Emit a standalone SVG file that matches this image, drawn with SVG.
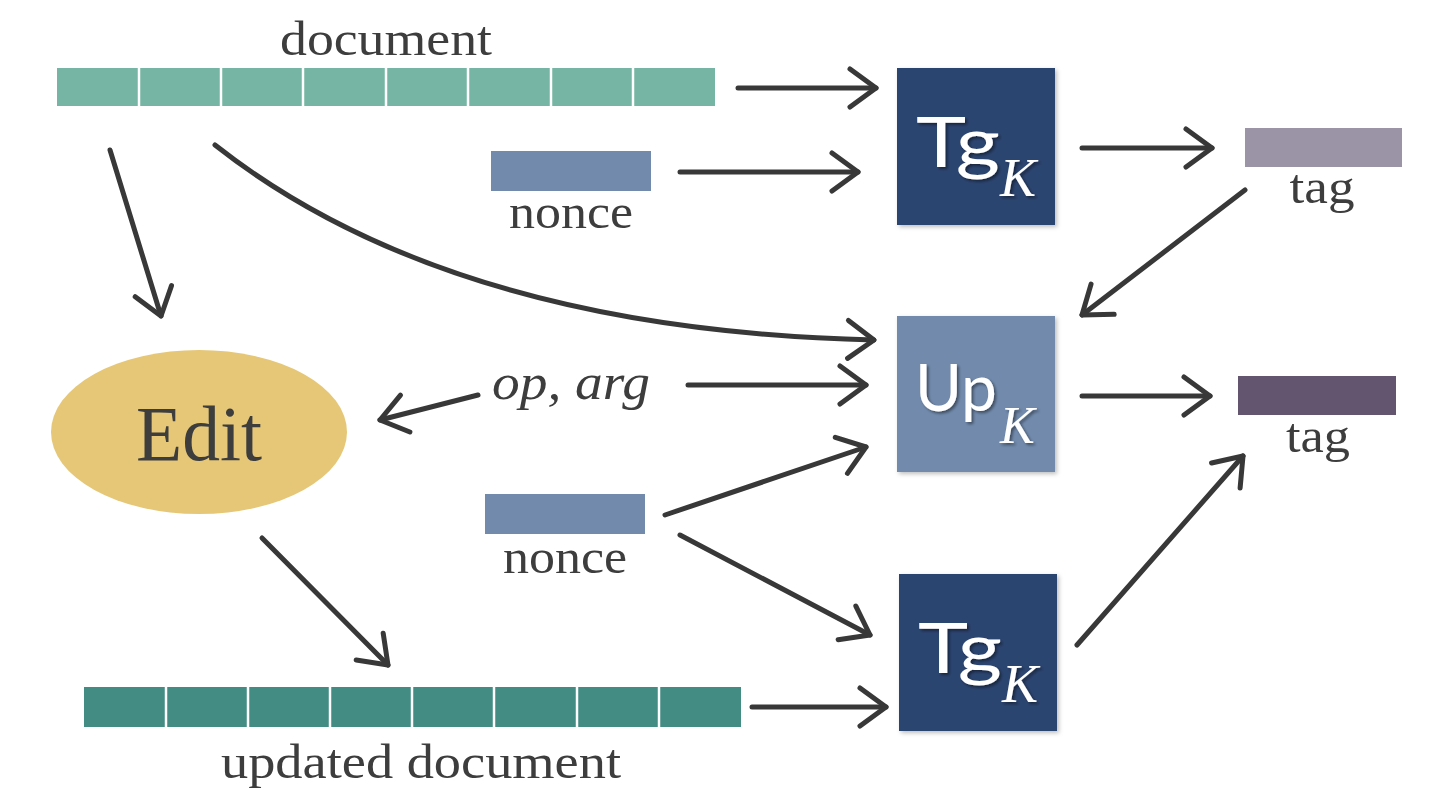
<svg xmlns="http://www.w3.org/2000/svg" width="1430" height="790" viewBox="0 0 1430 790">
<style>
.lbl{font-family:"Liberation Serif","Times New Roman",serif;fill:#3d3d3d;text-anchor:middle}
.box{font-family:Lato,"Open Sans",sans-serif;fill:#ffffff}
.sub{font-family:"Liberation Serif",serif;font-style:italic;fill:#ffffff}
.arr{fill:none;stroke:#383838;stroke-width:5;stroke-linecap:round;marker-end:url(#head)}
.doc{fill:#76b5a3}
.udoc{fill:#428c83}
.sep{stroke:#ffffff;stroke-width:2.5}
</style>
<defs>
<marker id="head" markerUnits="userSpaceOnUse" viewBox="-32 -25 38 50" markerWidth="38" markerHeight="50" refX="0" refY="0" orient="auto">
<path d="M-26,-19 L0,0 L-26,19" fill="none" stroke="#383838" stroke-width="5" stroke-linecap="round" stroke-linejoin="round"/>
</marker>
<filter id="sh" x="-10%" y="-10%" width="125%" height="125%">
<feDropShadow dx="2" dy="2" stdDeviation="2" flood-color="#000" flood-opacity="0.25"/>
</filter>
<filter id="tsh" x="-10%" y="-10%" width="130%" height="130%">
<feDropShadow dx="2" dy="2" stdDeviation="1.5" flood-color="#000" flood-opacity="0.45"/>
</filter>
</defs>

<g id="document">
<rect class="doc" x="57" y="68" width="658" height="38"/>
<g class="sep">
<line x1="139" y1="68" x2="139" y2="106"/><line x1="221" y1="68" x2="221" y2="106"/><line x1="303" y1="68" x2="303" y2="106"/><line x1="386" y1="68" x2="386" y2="106"/><line x1="468" y1="68" x2="468" y2="106"/><line x1="551" y1="68" x2="551" y2="106"/><line x1="633" y1="68" x2="633" y2="106"/>
</g>
<text class="lbl" x="386" y="55" font-size="48" textLength="212" lengthAdjust="spacingAndGlyphs">document</text>
</g>

<g id="nonce1">
<rect x="491" y="151" width="160" height="40" fill="#728bad"/>
<text class="lbl" x="571" y="228" font-size="48" textLength="124" lengthAdjust="spacingAndGlyphs">nonce</text>
</g>

<g id="tg1" filter="url(#sh)">
<rect x="897" y="68" width="158" height="157" fill="#2c4570"/>
<g filter="url(#tsh)">
<text class="box" x="916" y="167" font-size="70" textLength="84" lengthAdjust="spacingAndGlyphs">Tg</text>
<text class="sub" x="1000" y="196" font-size="54">K</text>
</g>
</g>

<g id="tag1">
<rect x="1245" y="128" width="157" height="39" fill="#9b94a6"/>
<text class="lbl" x="1322" y="203" font-size="48" textLength="65" lengthAdjust="spacingAndGlyphs">tag</text>
</g>

<g id="up" filter="url(#sh)">
<rect x="897" y="316" width="158" height="156" fill="#728bad"/>
<g filter="url(#tsh)">
<text class="box" x="915" y="411" font-size="66" textLength="82" lengthAdjust="spacingAndGlyphs">Up</text>
<text class="sub" x="1000" y="443" font-size="52">K</text>
</g>
</g>

<g id="tag2">
<rect x="1238" y="376" width="158" height="39" fill="#635470"/>
<text class="lbl" x="1318" y="452" font-size="48" textLength="64" lengthAdjust="spacingAndGlyphs">tag</text>
</g>

<g id="edit">
<ellipse cx="199" cy="432" rx="148" ry="82" fill="#e5c777"/>
<text class="lbl" x="199" y="460" font-size="78" textLength="126" lengthAdjust="spacingAndGlyphs">Edit</text>
</g>

<g id="oparg">
<text class="lbl" x="571" y="399" font-size="50" font-style="italic" textLength="158" lengthAdjust="spacingAndGlyphs">op, arg</text>
</g>

<g id="nonce2">
<rect x="485" y="494" width="160" height="40" fill="#728bad"/>
<text class="lbl" x="565" y="573" font-size="48" textLength="124" lengthAdjust="spacingAndGlyphs">nonce</text>
</g>

<g id="tg2" filter="url(#sh)">
<rect x="899" y="574" width="158" height="157" fill="#2c4570"/>
<g filter="url(#tsh)">
<text class="box" x="918" y="673" font-size="70" textLength="84" lengthAdjust="spacingAndGlyphs">Tg</text>
<text class="sub" x="1002" y="702" font-size="54">K</text>
</g>
</g>

<g id="updated">
<rect class="udoc" x="84" y="687" width="657" height="40"/>
<g class="sep">
<line x1="166" y1="687" x2="166" y2="727"/><line x1="248" y1="687" x2="248" y2="727"/><line x1="330" y1="687" x2="330" y2="727"/><line x1="412" y1="687" x2="412" y2="727"/><line x1="494" y1="687" x2="494" y2="727"/><line x1="577" y1="687" x2="577" y2="727"/><line x1="659" y1="687" x2="659" y2="727"/>
</g>
<text class="lbl" x="421" y="778" font-size="48" textLength="400" lengthAdjust="spacingAndGlyphs">updated document</text>
</g>

<g id="connectors">
<path class="arr" d="M738,88 L876,88"/>
<path class="arr" d="M680,172 L858,172"/>
<path class="arr" d="M1082,148 L1212,148"/>
<path class="arr" d="M1245,190 L1082,315"/>
<path class="arr" d="M110,150 L161,316"/>
<path class="arr" d="M215,145 Q450,330 874,340"/>
<path class="arr" d="M688,385 L866,385"/>
<path class="arr" d="M478,395 L380,420"/>
<path class="arr" d="M1082,396 L1210,396"/>
<path class="arr" d="M665,515 L866,447"/>
<path class="arr" d="M680,535 L870,635"/>
<path class="arr" d="M1077,645 L1243,456"/>
<path class="arr" d="M262,538 L388,665"/>
<path class="arr" d="M752,707 L886,707"/>
</g>
</svg>
